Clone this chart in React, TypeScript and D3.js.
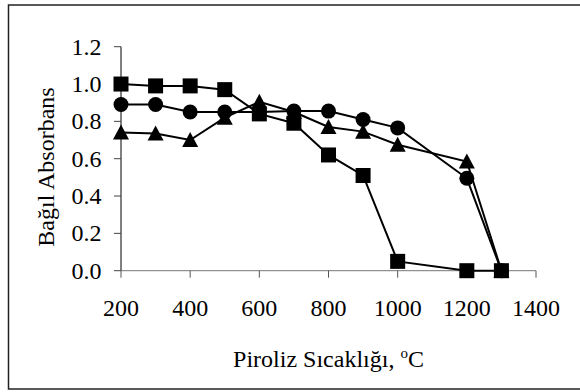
import React from "react";
import * as d3 from "d3";

// pyrolysis temperatures (°C) and relative absorbance per series
const temps = [200, 300, 400, 500, 600, 700, 800, 900, 1000, 1200, 1300];
const squareVals = [1.0, 0.99, 0.99, 0.97, 0.84, 0.79, 0.62, 0.51, 0.05, 0.0, 0.0];
const circleVals = [0.89, 0.89, 0.85, 0.85, 0.85, 0.855, 0.855, 0.81, 0.765, 0.495, 0.0];
const triangleVals = [0.74, 0.735, 0.70, 0.82, 0.905, 0.85, 0.77, 0.745, 0.675, 0.585, 0.0];

const xTicks = [200, 400, 600, 800, 1000, 1200, 1400];
const yTicks = [0, 0.2, 0.4, 0.6, 0.8, 1.0, 1.2];

const W = 580;
const H = 392;
const font = "'Times New Roman', 'Liberation Serif', serif";

export default function App() {
  const x = d3.scaleLinear().domain([200, 1400]).range([121, 536]);
  const y = d3.scaleLinear().domain([0, 1.2]).range([270.7, 46.7]);

  const line = d3
    .line<[number, number]>()
    .x((d) => x(d[0]))
    .y((d) => y(d[1]));

  const series = [
    { vals: squareVals, shape: "square" },
    { vals: circleVals, shape: "circle" },
    { vals: triangleVals, shape: "triangle" },
  ];

  const marker = (shape: string, cx: number, cy: number, key: string) => {
    if (shape === "square")
      return <rect key={key} x={cx - 7.5} y={cy - 7.5} width={15} height={15} fill="#000" />;
    if (shape === "circle") return <circle key={key} cx={cx} cy={cy} r={7.5} fill="#000" />;
    return (
      <path
        key={key}
        d={`M${cx},${cy - 8}L${cx + 8},${cy + 7}L${cx - 8},${cy + 7}Z`}
        fill="#000"
      />
    );
  };

  return (
    <div style={{ position: "fixed", left: 0, top: 0 }}>
      <svg width={W} height={H} style={{ display: "block" }}>
        <rect x={0} y={0} width={W} height={H} fill="#fff" />
        {/* outer frame, runs off the right edge */}
        <rect x={8.5} y={5} width={W + 20} height={384} fill="none" stroke="#222" strokeWidth={1.5} />

        {/* y axis */}
        <line x1={x(200)} x2={x(200)} y1={y(1.2)} y2={y(0)} stroke="#000" strokeWidth={1} />
        {yTicks.map((t) => (
          <g key={t}>
            <line x1={x(200) - 7} x2={x(200)} y1={y(t)} y2={y(t)} stroke="#444" strokeWidth={1} />
            <text
              x={101.5}
              y={y(t) + 8}
              textAnchor="end"
              fontFamily={font}
              fontSize={24}
              fill="#000"
            >
              {t.toFixed(1)}
            </text>
          </g>
        ))}

        {/* x axis */}
        <line x1={x(200)} x2={x(1400)} y1={y(0)} y2={y(0)} stroke="#777" strokeWidth={1} />
        {xTicks.map((t) => (
          <g key={t}>
            <line x1={x(t)} x2={x(t)} y1={y(0)} y2={y(0) + 7} stroke="#555" strokeWidth={1} />
            <text x={x(t)} y={316} textAnchor="middle" fontFamily={font} fontSize={24} fill="#000">
              {t}
            </text>
          </g>
        ))}

        {/* series */}
        {series.map((s, i) => {
          const pts = temps.map((t, j) => [t, s.vals[j]] as [number, number]);
          return (
            <g key={i}>
              <path d={line(pts) || ""} fill="none" stroke="#000" strokeWidth={2} />
              {pts.map((p, j) => marker(s.shape, x(p[0]), y(p[1]), `${i}-${j}`))}
            </g>
          );
        })}

        {/* axis titles */}
        <text x={328.5} y={367} textAnchor="middle" fontFamily={font} fontSize={24} fill="#000">
          Piroliz Sıcaklığı, <tspan dy={-9} fontSize={15}>o</tspan>
          <tspan dy={9}>C</tspan>
        </text>
        <text
          transform="translate(54,167) rotate(-90)"
          textAnchor="middle"
          fontFamily={font}
          fontSize={24}
          fill="#000"
        >
          Bağıl Absorbans
        </text>
      </svg>
    </div>
  );
}
